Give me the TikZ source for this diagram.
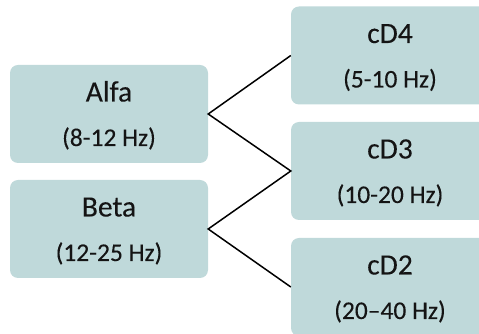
\documentclass[tikz,border=0pt]{standalone}
\usepackage{fontspec}
\setmainfont{Carlito}[FakeBold=0.15]
\definecolor{boxfill}{HTML}{BFD9DA}
\definecolor{txt}{HTML}{141414}
\begin{document}
\begin{tikzpicture}[x=1pt,y=1pt,
  band/.style={fill=boxfill,draw=none,rounded corners=8pt,minimum width=198pt,minimum height=98pt,inner sep=0pt},
  ttl/.style={anchor=base,inner sep=0pt,text=txt,font=\fontsize{29.5}{32}\selectfont},
  sub/.style={anchor=base,inner sep=0pt,text=txt,font=\fontsize{25.5}{28}\selectfont},
  link/.style={draw=black,line width=1.5pt}]
\useasboundingbox (0,0) rectangle (479,334);
\clip (0,0) rectangle (479,334);
\node[band] (alfa) at (109,220) {};
\node[band] (beta) at (109,105) {};
\node[band] (cdfour) at (390,278.5) {};
\node[band] (cdthree) at (390,163) {};
\node[band] (cdtwo) at (390,47) {};
\node[ttl] (alfaT) at ([yshift=12.5pt]alfa.center) {Alfa};
\node[sub] (alfaS) at ([yshift=-32pt]alfa.center) {(8-12 Hz)};
\node[ttl] (betaT) at ([yshift=12.5pt]beta.center) {Beta};
\node[sub] (betaS) at ([yshift=-32pt]beta.center) {(12-25 Hz)};
\node[ttl] (cdfourT) at ([yshift=12.5pt]cdfour.center) {cD4};
\node[sub] (cdfourS) at ([yshift=-32pt]cdfour.center) {(5-10 Hz)};
\node[ttl] (cdthreeT) at ([yshift=12.5pt]cdthree.center) {cD3};
\node[sub] (cdthreeS) at ([yshift=-32pt]cdthree.center) {(10-20 Hz)};
\node[ttl] (cdtwoT) at ([yshift=12.5pt]cdtwo.center) {cD2};
\node[sub] (cdtwoS) at ([yshift=-32pt]cdtwo.center) {(20–40 Hz)};
\draw[link] (cdfour.west) -- (alfa.east) -- (cdthree.west) -- (beta.east) -- (cdtwo.west);
\end{tikzpicture}
\end{document}
